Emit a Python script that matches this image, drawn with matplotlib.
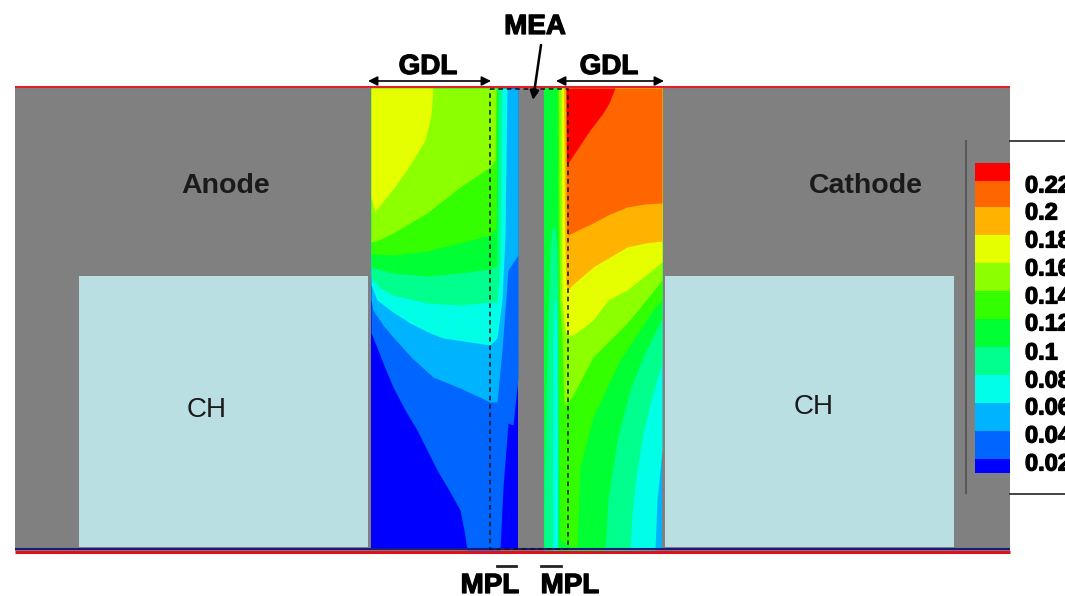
import numpy as np
import matplotlib
matplotlib.use("Agg")
import matplotlib.pyplot as plt
import matplotlib.patheffects as pe

plt.rcParams['font.family'] = ['Liberation Sans', 'DejaVu Sans']

# colour bands, low to high
band_colors = ['#0000ff', '#0066ff', '#00b3ff', '#00ffe6', '#00ff8c', '#00ff33',
               '#33ff00', '#8cff00', '#e6ff00', '#ffb300', '#ff6600', '#ff0000']
band_edges = [473, 459, 431, 403, 375, 347, 319, 291, 263, 235, 207, 181, 163]
tick_labels = ['0.02', '0.04', '0.06', '0.08', '0.1', '0.12', '0.14', '0.16',
               '0.18', '0.2', '0.22']
tick_y = [463, 435, 407, 380, 352, 323, 296, 268, 240, 212, 185]

# anode contour lines (x px, y px)
an_blue_x = [371, 376, 385, 393, 405, 417, 437, 450, 460, 464, 467, 500, 503, 508, 513, 518]
an_blue_y = [333, 345, 368, 387, 410, 430, 470, 492, 510, 530, 550, 550, 487, 423, 425, 378]
an_sky_x = [371, 373, 383, 393, 412, 433, 460, 490, 497, 502, 508, 518]
an_sky_y = [300, 310, 325, 337, 358, 377, 388, 402, 402, 350, 270, 255]
an_cyan_x = [371, 377, 393, 410, 428, 443, 470, 490, 497, 502, 505, 507]
an_cyan_y = [285, 300, 312, 323, 332, 338, 342, 345, 338, 300, 237, 88]
an_spring_x = [371, 380, 393, 427, 460, 490, 497, 500, 502]
an_spring_y = [277, 288, 295, 303, 305, 302, 302, 260, 88]
an_green2_x = [371, 393, 427, 460, 490, 497, 498]
an_green2_y = [267, 273, 276, 273, 269, 265, 88]
an_green_x = [371, 393, 427, 460, 490, 496, 497]
an_green_y = [254, 255, 251, 243, 235, 228, 88]
an_lime_x = [371, 376, 393, 427, 460, 490, 495, 496]
an_lime_y = [242, 241, 233, 213, 187, 167, 160, 88]
an_yellow_x = [371, 375, 393, 408, 425, 431, 433]
an_yellow_y = [198, 211, 189, 168, 140, 115, 88]

# cathode contour lines
ca_cyan_x = [558, 655, 657, 662]
ca_cyan_y = [550, 550, 500, 450]
ca_spring_x = [558, 630, 632, 635, 643, 653, 662]
ca_spring_y = [550, 550, 515, 483, 433, 393, 363]
ca_green2_x = [558, 605, 608, 617, 630, 643, 660, 662]
ca_green2_y = [550, 550, 500, 440, 390, 357, 322, 318]
ca_green_x = [557, 558.5, 560, 577, 580, 593, 620, 653, 662]
ca_green_y = [88, 400, 540, 550, 467, 417, 360, 310, 300]
ca_lime_x = [558.5, 559.5, 562, 564, 566, 573, 593, 627, 638, 662]
ca_lime_y = [88, 300, 340, 400, 405, 395, 357, 323, 310, 280]
ca_yellow_x = [561, 562, 565, 567, 573, 593, 608, 627, 662]
ca_yellow_y = [88, 300, 330, 335, 335, 320, 300, 290, 262]
ca_amber_x = [563.5, 564.5, 566, 568, 570, 593, 627, 645, 662]
ca_amber_y = [88, 230, 285, 290, 287, 267, 247, 243, 241]
ca_orange_x = [565.5, 566.5, 568, 580, 593, 610, 627, 645, 662]
ca_orange_y = [88, 230, 235, 229, 223, 214, 207, 204, 203]
ca_red_x = [566, 566.5, 570, 580, 590, 603, 609, 615]
ca_red_y = [88, 165, 160, 145, 130, 113, 103, 88]

# spring and cyan lens in the cathode MPL strip
lens_spring_x = [544, 546, 548, 550, 552, 555, 557, 558, 559]
lens_spring_y = [500, 400, 320, 250, 228, 228, 250, 320, 430]
lens_cyan_x = [552.5, 553, 554, 556, 557, 557.5]
lens_cyan_y = [480, 340, 300, 300, 340, 480]

fig = plt.figure(figsize=(10.65, 5.96), dpi=100)
ax = fig.add_axes([0, 0, 1, 1])
ax.set_xlim(0, 1065)
ax.set_ylim(596, 0)
ax.axis('off')

top = 88
bottom = 550

# background and channels
ax.fill_between([15, 1010], top, bottom + 1, color='#808080', lw=0)
for x0, x1 in [(79, 368), (665, 954)]:
    ax.fill_between([x0, x1], 276, 547, color='#b9dfe2', lw=0)

# anode side, painted from low to high
ax.fill_between([371, 518], top, bottom, color=band_colors[0], lw=0)
anode = [(an_blue_x, an_blue_y), (an_sky_x, an_sky_y), (an_cyan_x, an_cyan_y),
         (an_spring_x, an_spring_y), (an_green2_x, an_green2_y),
         (an_green_x, an_green_y), (an_lime_x, an_lime_y), (an_yellow_x, an_yellow_y)]
for i, (xs, ys) in enumerate(anode):
    ax.fill_between(xs, ys, top, color=band_colors[i + 1], lw=0)

# cathode side
ax.fill_between([544, 662], top, bottom, color=band_colors[2], lw=0)
ax.fill_between([544, 558], top, bottom, color=band_colors[5], lw=0)
ax.fill_between(lens_spring_x, lens_spring_y, bottom, color=band_colors[4], lw=0)
ax.fill_between(lens_cyan_x, lens_cyan_y, bottom, color=band_colors[3], lw=0)
cathode = [(ca_cyan_x, ca_cyan_y), (ca_spring_x, ca_spring_y), (ca_green2_x, ca_green2_y),
           (ca_green_x, ca_green_y), (ca_lime_x, ca_lime_y), (ca_yellow_x, ca_yellow_y),
           (ca_amber_x, ca_amber_y), (ca_orange_x, ca_orange_y), (ca_red_x, ca_red_y)]
for i, (xs, ys) in enumerate(cathode):
    ax.fill_between(xs, ys, top, color=band_colors[i + 3], lw=0)

# top and bottom walls
ax.plot([15, 1010], [549, 549], color='#1a1a80', lw=1.5, solid_capstyle='butt')
ax.plot([15, 1010], [87, 87], color='#e0202a', lw=1.5, solid_capstyle='butt')
ax.plot([15, 1010], [551.5, 551.5], color='#e0101c', lw=2.2, solid_capstyle='butt')

# dashed MEA box
ax.plot([490, 568, 568, 490, 490], [89, 89, 549, 549, 89], color='#111111', lw=1.1,
        ls=(0, (3, 2.5)))

# colour legend
ax.add_patch(plt.Rectangle((1010, 0), 55, 596, color='white', lw=0))
ax.plot([966, 966], [141, 493], color='#5a5a5a', lw=1.5)
ax.plot([1010, 1065], [141, 141], color='#222222', lw=1.2)
ax.plot([1010, 1065], [494, 494], color='#222222', lw=1.2)
for i, c in enumerate(band_colors):
    ax.fill_between([975, 1010], band_edges[i], band_edges[i + 1], color=c, lw=0)

# the reference text is heavy and smudged, a thin stroke gets closer
heavy = [pe.withStroke(linewidth=0.9, foreground='black')]
for lab, y in zip(tick_labels, tick_y):
    ax.text(1025, y + 1, lab, fontsize=17, fontweight='bold', va='center', ha='left',
            clip_on=True, path_effects=heavy)

# labels
for lab, x, y in [('GDL', 428, 67), ('GDL', 609, 67), ('MEA', 535, 27),
                  ('MPL', 490, 586), ('MPL', 570, 586)]:
    ax.text(x, y, lab, fontsize=20, fontweight='bold', ha='center', va='center',
            path_effects=heavy)
ax.text(226, 186, 'Anode', fontsize=20.5, fontweight='bold', ha='center', va='center',
        color='#1a1a1a')
ax.text(866, 186, 'Cathode', fontsize=20.5, fontweight='bold', ha='center', va='center',
        color='#1a1a1a')
ax.text(207, 410, 'CH', fontsize=20, ha='center', va='center', color='#1a1a1a')
ax.text(814, 407, 'CH', fontsize=20, ha='center', va='center', color='#1a1a1a')

# overbars on the MPL labels
ax.plot([497, 516], [566, 566], color='#222222', lw=2)
ax.plot([541, 561], [566, 566], color='#222222', lw=2)

# arrows
for x0, x1 in [(368, 491), (556, 664)]:
    ax.annotate('', xy=(x0, 81), xytext=(x1, 81),
                arrowprops=dict(arrowstyle='<|-|>', color='black', lw=1.2,
                                shrinkA=0, shrinkB=0, mutation_scale=14))
ax.annotate('', xy=(533, 100), xytext=(541, 45),
            arrowprops=dict(arrowstyle='-|>', color='black', lw=1.8,
                            shrinkA=0, shrinkB=0, mutation_scale=13))

fig.savefig('out.png', dpi=100)
